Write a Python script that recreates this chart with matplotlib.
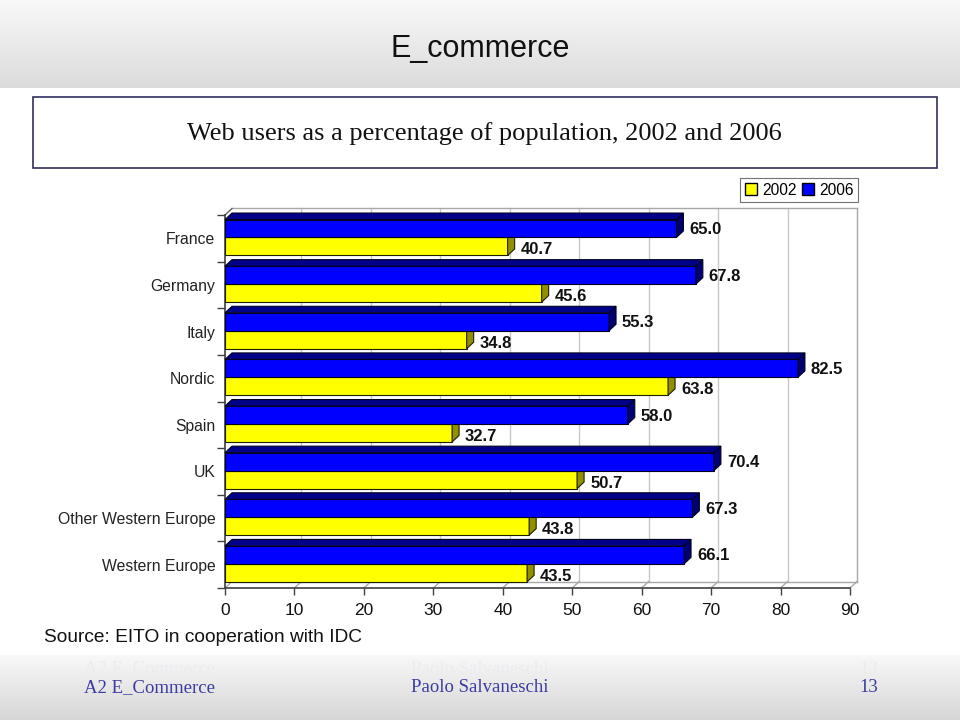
import matplotlib
matplotlib.use('Agg')
import matplotlib.pyplot as plt
import numpy as np
from matplotlib.patches import Polygon, Rectangle, Patch

# ---------------- data ----------------
categories = ['France', 'Germany', 'Italy', 'Nordic', 'Spain', 'UK',
              'Other Western Europe', 'Western Europe']
users_2002 = [40.7, 45.6, 34.8, 63.8, 32.7, 50.7, 43.8, 43.5]
users_2006 = [65.0, 67.8, 55.3, 82.5, 58.0, 70.4, 67.3, 66.1]
series_labels = ['2002', '2006']
x_ticks = [0, 10, 20, 30, 40, 50, 60, 70, 80, 90]
slide_title = 'E_commerce'
chart_title = 'Web users as a percentage of population, 2002 and 2006'
source_text = 'Source: EITO in cooperation with IDC'
footer_left, footer_mid, footer_right = 'A2 E_Commerce', 'Paolo Salvaneschi', '13'

plt.rcParams['font.family'] = ['Liberation Sans', 'DejaVu Sans']

W, H = 960, 720
fig = plt.figure(figsize=(9.6, 7.2), dpi=100)
fig.patch.set_facecolor('white')

# ---------------- background / slide decoration ----------------
bg = fig.add_axes([0, 0, 1, 1], zorder=0)
bg.set_xlim(0, W)
bg.set_ylim(H, 0)
bg.axis('off')

def vgrad(top, bottom, n=100):
    t = np.linspace(0, 1, n).reshape(-1, 1, 1)
    top = np.array(top).reshape(1, 1, 3)
    bottom = np.array(bottom).reshape(1, 1, 3)
    return top + (bottom - top) * t

bg.imshow(vgrad((0.975, 0.975, 0.975), (0.86, 0.86, 0.86)),
          extent=[0, W, 88, 0], aspect='auto', interpolation='bilinear')
bg.imshow(vgrad((0.975, 0.975, 0.975), (0.84, 0.84, 0.84)),
          extent=[0, W, H, 655], aspect='auto', interpolation='bilinear')
bg.set_xlim(0, W)
bg.set_ylim(H, 0)

bg.text(480, 57, slide_title, ha='center', va='baseline', fontsize=22, color='#111111')
bg.add_patch(Rectangle((33, 97), 904, 71, fill=False, edgecolor='#2f2f60', lw=1.2))
bg.text(484, 134, chart_title, ha='center', va='center', fontsize=19,
        family=['Liberation Serif', 'DejaVu Serif'], color='#111111')
bg.text(44, 638, source_text, ha='left', va='center', fontsize=13.8, color='#111111')

ff = ['Liberation Serif', 'DejaVu Serif']
for yy, col in ((669, '#ececf0'), (688, '#3c3ca0')):
    bg.text(84, yy, footer_left, ha='left', va='center', fontsize=13.5, family=ff, color=col)
    bg.text(480, yy, footer_mid, ha='center', va='center', fontsize=13.5, family=ff, color=col)
    bg.text(869, yy, footer_right, ha='center', va='center', fontsize=13.5, family=ff, color=col)

# ---------------- chart ----------------
top_px, bot_px, left_px, right_px = 215, 588, 225, 850
ax = fig.add_axes([left_px / W, (H - bot_px) / H, (right_px - left_px) / W,
                   (bot_px - top_px) / H], zorder=2)
ax.patch.set_alpha(0)
n = len(categories)
ax.set_xlim(x_ticks[0], x_ticks[-1])
ax.set_ylim(n, 0)

DX = 7 * (x_ticks[-1] - x_ticks[0]) / (right_px - left_px)
DY = 6.5 * n / (bot_px - top_px)

wall = '#a8a8a8'
# back wall grid lines
for v in x_ticks[1:-1]:
    ax.plot([v + DX, v + DX], [-DY, n - DY], color='#c8c8c8', lw=1, zorder=1, clip_on=False)
# floor diagonals
for v in x_ticks:
    ax.plot([v, v + DX], [n, n - DY], color=wall, lw=1, zorder=1, clip_on=False)
# wall edges
ax.plot([DX, x_ticks[-1] + DX], [-DY, -DY], color=wall, lw=1, zorder=1, clip_on=False)
ax.plot([x_ticks[-1] + DX] * 2, [-DY, n - DY], color=wall, lw=1, zorder=1, clip_on=False)
ax.plot([DX, x_ticks[-1] + DX], [n - DY, n - DY], color=wall, lw=1, zorder=1, clip_on=False)
ax.plot([0, DX], [0, -DY], color='#606060', lw=1, zorder=1, clip_on=False)

h = 0.385
y_blue = np.arange(n) + 0.29
y_yel = np.arange(n) + 0.29 + h

faces = {
    '2002': dict(front='#FFFF00', top='#B0B000', side='#909000', edge='#202000', dy=-3.5),
    '2006': dict(front='#0000FF', top='#000088', side='#000070', edge='#000020', dy=-1),
}

def bar3d(y, vals, sty, z):
    ax.barh(y, vals, height=h, color=sty['front'], edgecolor=sty['edge'],
            lw=0.8, zorder=z)
    for yc, v in zip(y, vals):
        yt, yb = yc - h / 2, yc + h / 2
        top = Polygon([(0, yt), (v, yt), (v + DX, yt - DY), (DX, yt - DY)],
                      closed=True, facecolor=sty['top'], edgecolor=sty['edge'],
                      lw=0.8, zorder=z, clip_on=False)
        side = Polygon([(v, yt), (v, yb), (v + DX, yb - DY), (v + DX, yt - DY)],
                       closed=True, facecolor=sty['side'], edgecolor=sty['edge'],
                       lw=0.8, zorder=z, clip_on=False)
        ax.add_patch(top)
        ax.add_patch(side)
        ax.annotate(f'{v:.1f}', xy=(v + DX, yc), xytext=(6, sty['dy']),
                    textcoords='offset pixels', ha='left', va='center',
                    fontsize=12, fontweight='bold', color='#111111',
                    zorder=6, annotation_clip=False)

bar3d(y_yel, users_2002, faces['2002'], 3)
bar3d(y_blue, users_2006, faces['2006'], 4)

# axes styling
for s in ('top', 'right'):
    ax.spines[s].set_visible(False)
for s in ('left', 'bottom'):
    ax.spines[s].set_color('#404040')
    ax.spines[s].set_linewidth(1.2)
ax.set_xticks(x_ticks)
ax.set_xticklabels([str(t) for t in x_ticks], fontsize=12.5, color='#111111')
ax.tick_params(axis='x', direction='out', length=5, width=1, color='#404040', pad=6)
ax.set_yticks(np.arange(n) + 0.5)
ax.set_yticklabels(categories, fontsize=11.3, color='#222222')
ax.tick_params(axis='y', which='major', length=0, pad=7)
ax.set_yticks(np.arange(n + 1), minor=True)
ax.tick_params(axis='y', which='minor', direction='out', length=6, width=1, color='#404040')

leg = fig.legend(handles=[Patch(facecolor=faces['2002']['front'], edgecolor='black', label=series_labels[0]),
                          Patch(facecolor=faces['2006']['front'], edgecolor='black', label=series_labels[1])],
                 loc='upper left', bbox_to_anchor=(740 / W, 1 - 178 / H), ncol=2,
                 frameon=True, fancybox=False, edgecolor='#505050', fontsize=11.2,
                 handlelength=0.8, handleheight=0.8, handletextpad=0.3,
                 columnspacing=0.35, borderpad=0.3, borderaxespad=0)
leg.get_frame().set_linewidth(0.8)

fig.savefig('out.png', dpi=100)
